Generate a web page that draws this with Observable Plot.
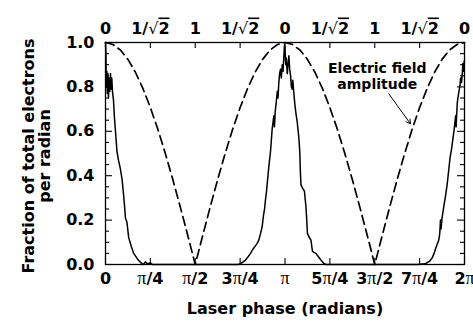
<!DOCTYPE html>
<html><head><meta charset="utf-8">
<script src="https://cdn.jsdelivr.net/npm/d3@7"></script>
<script src="https://cdn.jsdelivr.net/npm/@observablehq/plot@0.6"></script>
<style>body{margin:0;background:#fff}</style>
</head><body><div id="chart"></div>
<script>
// Laser phase in degrees (0..360 = 0..2π)
const dashPhase = [0,7.5,15,22.5,30,37.5,45,52.5,60,67.5,75,82.5,90,97.5,105,112.5,120,127.5,135,142.5,150,157.5,165,172.5,180,187.5,195,202.5,210,217.5,225,232.5,240,247.5,255,262.5,270,277.5,285,292.5,300,307.5,315,322.5,330,337.5,345,352.5,360];
const dashValue = [1.000,0.991,0.966,0.924,0.866,0.793,0.707,0.609,0.500,0.383,0.259,0.131,0.000,0.131,0.259,0.383,0.500,0.609,0.707,0.793,0.866,0.924,0.966,0.991,1.000,0.991,0.966,0.924,0.866,0.793,0.707,0.609,0.500,0.383,0.259,0.131,0.000,0.131,0.259,0.383,0.500,0.609,0.707,0.793,0.866,0.924,0.966,0.991,1.000];

const solidPhase = [0,0.4,0.8,1.3,1.8,2.4,3.0,3.6,4.3,5.0,5.6,6.3,7.0,8.0,9.0,10.0,11.5,13.0,15.0,16.7,18.0,19.0,20.0,21.5,23.3,26.0,28.3,32.0,35.0,38.0,40.0,42.0,45.0,47.0,
133,135.4,138,140.4,143,145.4,148,150.5,152.1,153.7,155.5,157.1,158.4,159.5,160.4,161.5,162.7,164,165.5,166.3,167.1,168.0,168.8,169.4,170.2,171.2,172.3,173.0,173.8,174.6,175.5,176.3,177.2,178.0,178.9,179.5,180.1,180.7,181.3,182.3,183.2,183.9,184.7,185.6,186.4,187.2,187.8,188.9,189.9,191.0,192.3,193.9,194.8,195.4,196.0,197.5,199.5,201.0,201.8,202.5,204.0,206.0,207.5,209.0,211.0,213.5,216.0,219.0,221.0,
313,317.6,320,322.6,325,327.6,329.5,330.9,332.5,334.2,335.2,335.9,336.5,337.5,339.2,341.0,342.6,344.3,345.5,347.0,348.2,349.4,350.4,351.1,351.6,352.2,352.8,354.4,355.3,356.1,357.0,357.8,358.4,359.0,359.6,360];
const solidValue = [1.00,0.96,0.80,0.87,0.77,0.86,0.75,0.84,0.78,0.86,0.79,0.84,0.78,0.74,0.66,0.60,0.51,0.47,0.43,0.38,0.32,0.27,0.21,0.19,0.12,0.08,0.05,0.025,0.01,0.0,0.012,0.002,0.008,0.0,
0,0.004,0.012,0.02,0.035,0.05,0.07,0.085,0.095,0.11,0.14,0.17,0.22,0.25,0.29,0.33,0.39,0.45,0.51,0.56,0.61,0.64,0.67,0.62,0.69,0.73,0.78,0.75,0.82,0.86,0.88,0.84,0.90,0.87,0.94,0.99,0.97,0.90,0.93,0.86,0.91,0.94,0.88,0.85,0.80,0.79,0.83,0.77,0.72,0.68,0.64,0.57,0.51,0.42,0.36,0.345,0.33,0.26,0.20,0.14,0.125,0.11,0.06,0.055,0.05,0.035,0.02,0.005,0,
0,0.002,0.003,0.008,0.015,0.03,0.05,0.07,0.09,0.11,0.14,0.20,0.16,0.21,0.26,0.31,0.36,0.43,0.48,0.52,0.56,0.60,0.64,0.67,0.62,0.68,0.73,0.78,0.80,0.84,0.82,0.86,0.905,0.87,0.91,0.92];

const xTicks = [0,45,90,135,180,225,270,315,360];
const xTickLabels = ["0","π/4","π/2","3π/4","π","5π/4","3π/2","7π/4","2π"];
const topTickLabels = ["0","1/√2","1","1/√2","0","1/√2","1","1/√2","0"];
const yMajor = [0,0.2,0.4,0.6,0.8,1.0];
const yMinor = [0.05,0.1,0.15,0.25,0.3,0.35,0.45,0.5,0.55,0.65,0.7,0.75,0.85,0.9,0.95];

const annotationText = ["Electric field\namplitude"];
const annotationAt = [{phase: 272.5, value: 0.849}];
const arrowLink = [{phase1: 284.1, value1: 0.769, phase2: 305.8, value2: 0.634}];

const xLabel = "Laser phase (radians)";
const yLabel = "Fraction of total electrons\nper radian";

const dash = dashPhase.map((p, i) => ({p, v: dashValue[i]}));
const solid = solidPhase.map((p, i) => ({p, v: solidValue[i]}));
const fmtBottom = new Map(xTicks.map((t, i) => [t, xTickLabels[i]]));
const fmtTop = new Map(xTicks.map((t, i) => [t, topTickLabels[i]]));

const tX = 0.027;   // tick length on x (in y units)
const tMaj = 7, tMin = 4; // tick length on y axes (in degrees)

const plot = Plot.plot({
  width: 473, height: 324,
  marginLeft: 105, marginRight: 9, marginTop: 42, marginBottom: 60,
  x: {domain: [0, 360]},
  y: {domain: [0, 1]},
  style: {fontFamily: "'DejaVu Sans'", fontSize: "16px", fontWeight: "bold", color: "black", background: "white"},
  marks: [
    Plot.axisX(xTicks, {anchor: "bottom", tickSize: 0, tickPadding: 8, tickFormat: d => fmtBottom.get(d), label: null}),
    Plot.axisX(xTicks, {anchor: "top", tickSize: 0, tickPadding: 9, tickFormat: d => fmtTop.get(d), label: null}),
    Plot.axisY(yMajor, {anchor: "left", tickSize: 0, tickPadding: 11, tickFormat: d3.format(".1f"), label: null}),
    Plot.ruleX(xTicks, {x: d => d, y1: 0, y2: tX, strokeWidth: 1.1}),
    Plot.ruleX(xTicks, {x: d => d, y1: 1, y2: 1 - tX, strokeWidth: 1.1}),
    Plot.ruleY(yMajor, {y: d => d, x1: 0, x2: tMaj, strokeWidth: 1.1}),
    Plot.ruleY(yMinor, {y: d => d, x1: 0, x2: tMin, strokeWidth: 1.1}),
    Plot.ruleY(yMajor, {y: d => d, x1: 360, x2: 360 - tMaj, strokeWidth: 1.1}),
    Plot.ruleY(yMinor, {y: d => d, x1: 360, x2: 360 - tMin, strokeWidth: 1.1}),
    Plot.line(dash, {x: "p", y: "v", stroke: "black", strokeWidth: 1.7, strokeDasharray: "9,5"}),
    Plot.line(solid, {x: "p", y: "v", stroke: "black", strokeWidth: 1.5}),
    Plot.frame({stroke: "black", strokeWidth: 1.3}),
    Plot.text(annotationAt, {x: "phase", y: "value", text: () => annotationText[0], fontSize: 14, lineHeight: 1.14}),
    Plot.arrow(arrowLink, {x1: "phase1", y1: "value1", x2: "phase2", y2: "value2", stroke: "black", strokeWidth: 1, headLength: 7}),
    Plot.text([xLabel], {frameAnchor: "bottom", dy: 49, text: d => d}),
    Plot.text([yLabel], {frameAnchor: "left", textAnchor: "middle", rotate: -90, dx: -69, dy: 2.5, lineHeight: 1.0, text: d => d})
  ]
});

// Style π and √ glyphs in tick labels
const NS = "http://www.w3.org/2000/svg";
plot.querySelectorAll("text").forEach(t => {
  const s = t.textContent;
  if (!/[π√]/.test(s)) return;
  while (t.firstChild) t.removeChild(t.firstChild);
  const chars = Array.from(s);
  for (let i = 0; i < chars.length; i++) {
    const c = chars[i];
    if (c === "π") {
      const ts = document.createElementNS(NS, "tspan");
      ts.setAttribute("style", "font-family:'Liberation Serif';font-weight:normal;font-size:18px");
      ts.textContent = c; t.appendChild(ts);
    } else if (c === "√") {
      const ts = document.createElementNS(NS, "tspan");
      ts.setAttribute("style", "font-family:'DejaVu Sans';font-weight:normal");
      ts.textContent = c; t.appendChild(ts);
      const nx = chars[++i];
      const t2 = document.createElementNS(NS, "tspan");
      t2.setAttribute("style", "text-decoration:overline");
      t2.textContent = nx; t.appendChild(t2);
    } else {
      t.appendChild(document.createTextNode(c));
    }
  }
});

document.getElementById("chart").appendChild(plot);
</script>
</body></html>
